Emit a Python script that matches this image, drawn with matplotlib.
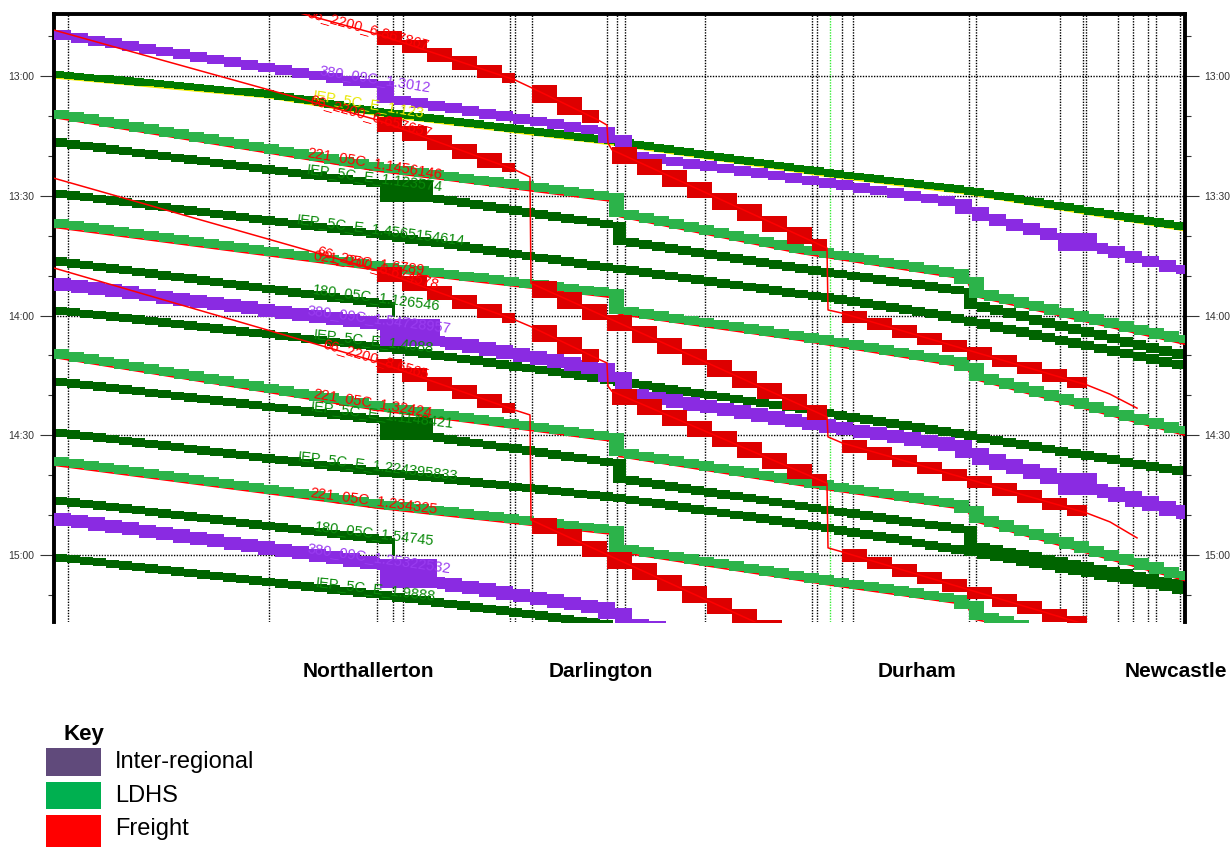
import numpy as np
import matplotlib.pyplot as plt
from matplotlib.patches import Rectangle
from matplotlib.ticker import MultipleLocator, FuncFormatter

plt.rcParams['font.family'] = ['Liberation Sans', 'DejaVu Sans']

# distance (km from left edge of graph) of the dotted timing point lines
timing_km = [1.4, 21.5, 32.3, 33.9, 34.9, 45.6, 46.1, 47.8, 55.3, 56.3, 57.1, 65.1,
             75.8, 76.3, 78.8, 79.9, 91.5, 92.2, 100.6, 102.9, 103.2, 106.4, 107.9,
             109.4, 110.2, 112.6]
green_km = 77.6
stations = ['Northallerton', 'Darlington', 'Durham', 'Newcastle']

# times are minutes after 12:00
# --- inter-regional, 380_09C
ir1_km = [0.0, 33.8, 34.0, 55.9, 56.6, 77.6, 91.2, 92.1, 113.1]
ir1_min = [49.5, 62.8, 65.8, 74.3, 79.5, 86.8, 92.1, 94.6, 108.8]
ir2_km = [0.0, 33.8, 34.0, 38.6, 55.9, 56.6, 77.3, 91.2, 92.1, 113.1]
ir2_min = [111.9, 122.6, 125.1, 126.4, 133.9, 139.2, 147.7, 152.9, 155.2, 169.5]
ir3_km = [0.0, 33.8, 34.0, 38.3, 55.9, 56.6, 77.3]
ir3_min = [170.7, 182.7, 185.3, 186.8, 193.8, 196.8, 205.0]

# --- LDHS, IEP_5C_E and 180_05C
iep1_km = [0.0, 21.5, 32.6, 55.9, 77.6, 91.3, 113.1]
iep1_min = [59.5, 64.5, 69.0, 76.3, 84.3, 88.6, 97.8]
iep2_km = [0.0, 32.6, 33.9, 34.0, 37.9, 55.9, 56.4, 77.6, 91.2, 92.2, 113.1]
iep2_min = [76.5, 87.0, 87.8, 89.8, 90.6, 97.3, 101.1, 109.3, 113.9, 117.4, 130.1]
iep3_km = [0.0, 32.6, 55.9, 77.6, 88.6, 113.1]
iep3_min = [89.3, 99.8, 108.1, 115.6, 119.9, 132.6]
c180a_km = [0.0, 33.9, 34.1]
c180a_min = [106.3, 117.4, 119.4]
iep4_km = [0.0, 32.6, 55.9, 77.3, 90.6, 113.1]
iep4_min = [118.6, 127.9, 136.2, 144.4, 149.7, 159.2]
iep5_km = [0.0, 32.6, 33.9, 34.0, 37.9, 55.9, 56.4, 77.3, 91.2, 92.2, 113.1]
iep5_min = [136.4, 146.2, 147.2, 149.4, 150.4, 156.9, 160.7, 168.7, 173.7, 177.7, 187.5]
iep6_km = [0.0, 32.6, 55.9, 77.3, 90.6, 113.1]
iep6_min = [149.2, 159.2, 165.5, 173.2, 178.7, 188.8]
c180b_km = [0.0, 33.9, 34.1]
c180b_min = [166.2, 176.5, 179.2]
iep7_km = [0.0, 32.6, 55.9]
iep7_min = [180.5, 190.0, 197.5]

# --- LDHS, 221_05C
v221a_km = [0.0, 32.6, 55.9, 56.5, 74.6, 91.2, 92.1, 113.1]
v221a_min = [69.3, 82.8, 90.3, 94.1, 103.3, 109.8, 114.1, 126.1]
v221b_km = [0.0, 32.6, 55.9, 56.5, 74.6, 91.2, 92.1, 113.1]
v221b_min = [96.8, 107.6, 114.4, 118.6, 125.1, 131.9, 134.9, 148.9]
v221c_km = [0.0, 32.6, 55.9, 56.5, 77.3, 91.2, 92.1, 113.1]
v221c_min = [129.4, 142.7, 150.4, 154.2, 162.5, 167.5, 170.5, 185.3]
v221d_km = [0.0, 32.6, 55.9, 56.6, 77.3, 91.2, 92.1, 113.1]
v221d_min = [156.4, 167.2, 173.7, 178.2, 186.3, 191.3, 195.0, 206.3]

# --- freight, 66_2200
f1_km = [20.6, 32.3, 46.1, 47.8, 54.4, 55.3, 55.4, 55.8, 77.3, 77.4, 78.8, 103.3, 105.6, 108.3]
f1_min = [41.5, 49.5, 61.0, 63.0, 71.0, 72.3, 76.8, 78.5, 103.1, 118.6, 119.4, 137.4, 139.7, 143.2]
f2_km = [0.0, 32.3, 46.1, 47.6, 47.7, 77.3, 77.4, 78.8, 103.3, 105.6, 108.3]
f2_min = [48.5, 71.0, 83.5, 85.3, 111.9, 145.4, 150.4, 151.9, 169.5, 171.7, 175.7]
f3_km = [0.0, 32.3, 46.1, 47.8, 54.6, 55.3, 55.4, 55.8, 77.3, 77.4, 78.8, 103.3]
f3_min = [85.6, 108.6, 121.1, 122.9, 131.1, 131.9, 137.7, 139.0, 162.0, 178.2, 179.2, 197.5]
f4_km = [0.0, 32.3, 46.1, 47.6, 47.7, 77.3]
f4_min = [108.1, 131.6, 143.7, 144.9, 171.2, 205.0]
# signalled sections where the freight blocking is shown
frt_stop_sections = [(32.3, 46.1), (47.8, 54.5), (55.8, 77.3), (78.8, 103.3)]
frt_loop_sections = [(32.3, 46.1), (47.8, 77.3), (78.8, 103.3)]

key_labels = ['Inter-regional', 'LDHS', 'Freight']

north = (32.6, 37.9)
durham_ir = (100.4, 104.3)
trains = [
    (iep1_km, iep1_min, 'iep_y', 'IEP_5C_E_1.123', 25.9, []),
    (iep2_km, iep2_min, 'iep', 'IEP_5C_E_1.123574', 25.3, [north]),
    (iep3_km, iep3_min, 'iep', 'IEP_5C_E_1.4565154614', 24.3, []),
    (c180a_km, c180a_min, 'iep', '180_05C_1.126546', 25.9, []),
    (iep4_km, iep4_min, 'iep', 'IEP_5C_E_1.4088', 25.9, []),
    (iep5_km, iep5_min, 'iep', 'IEP_5C_E_1.1148421', 25.6, [north]),
    (iep6_km, iep6_min, 'iep', 'IEP_5C_E_1.224395833', 24.3, []),
    (c180b_km, c180b_min, 'iep', '180_05C_1.54745', 26.1, []),
    (iep7_km, iep7_min, 'iep', 'IEP_5C_E_1.9888', 26.1, []),
    (v221a_km, v221a_min, 'v221', '221_05C_1.1456146', 25.3, []),
    (v221b_km, v221b_min, 'v221', '021_05C_1.6789', 25.9, []),
    (v221c_km, v221c_min, 'v221', '221_05C_1.32424', 25.9, []),
    (v221d_km, v221d_min, 'v221', '221_05C_1.234325', 25.6, []),
    (ir1_km, ir1_min, 'ir', '380_09C_1.3012', 26.6, [durham_ir]),
    (ir2_km, ir2_min, 'ir2', '380_09C_1.54728957', 25.3, [(32.6, 38.6), durham_ir]),
    (ir3_km, ir3_min, 'ir2', '380_09C_1.25322532', 25.3, [(32.6, 38.3)]),
    (f1_km, f1_min, 'frt', '66_2200_6.867867', 25.3, frt_stop_sections),
    (f2_km, f2_min, 'frt', '66_2200_6.657657', 25.6, frt_loop_sections),
    (f3_km, f3_min, 'frt', '66_2200_6.674578', 26.3, frt_stop_sections),
    (f4_km, f4_min, 'frt', '66_2200_8.6565', 26.9, frt_loop_sections[:2]),
]

style = {  # band colour, block length km, half height min, label colour, zorder
    'iep':   ('#006400', 1.3, 0.85, '#0a8a0a', 2),
    'iep_y': ('#007a00', 1.0, 0.8, '#e8e800', 2),
    'v221':  ('#2cb34a', 1.5, 0.9, '#ff0000', 3),
    'ir':    ('#8a2be2', 1.7, 0.9, '#9a3cf0', 4),
    'ir2':   ('#8a2be2', 1.7, 1.35, '#9a3cf0', 4),
    'frt':   ('#dd0000', 2.5, 0.65, '#ff0000', 5),
}

W, H = 1231, 847
fig = plt.figure(figsize=(W / 100, H / 100), dpi=100)
ax = fig.add_axes([54 / W, 1 - 622 / H, (1185 - 54) / W, (622 - 14) / H])
ax.set_xlim(0, 113.1)
ax.set_ylim(196.77, 44.47)


def band(km, mins, lo, hi, step, h, color, long_blocks, z):
    edges = list(np.arange(lo, hi, step)) + [hi]
    for a, b in long_blocks:
        if a >= lo and b <= hi:
            edges = [e for e in edges if e <= a or e >= b] + [a, b]
    edges = np.unique(np.round(edges, 3))
    t = np.interp(edges, km, mins)
    top = np.append(t[:-1] - h, t[-2] - h)
    bot = np.append(t[1:] + h, t[-1] + h)
    ax.fill_between(edges, top, bot, step='post', color=color, lw=0, zorder=z)


for km, mins, kind, label, lab_km, extra in trains:
    color, step, h, lcol, z = style[kind]
    km = np.asarray(km)
    mins = np.asarray(mins)
    if kind == 'frt':
        for lo, hi in extra:
            band(km, mins, lo, hi, step, h, color, [], z)
        ax.plot(km, mins, color='#ff0000', lw=1.1, zorder=z + 0.1)
    else:
        band(km, mins, km[0], km[-1], step, h, color, extra, z)
        if kind == 'v221':
            ax.plot(km, mins + h + 0.2, color='#ff0000', lw=1.2, zorder=z - 0.05)
        if kind == 'iep_y':
            ax.plot(km, mins + h + 0.1, color='#e8e800', lw=1.4, zorder=z - 0.05)
    # label sits just above the train's path
    lift = 0.6 if kind in ('v221', 'frt') else 1.4
    p = ax.transData.transform([(lab_km, np.interp(lab_km, km, mins)),
                                (lab_km + 6, np.interp(lab_km + 6, km, mins))])
    ang = np.degrees(np.arctan2(p[1, 1] - p[0, 1], p[1, 0] - p[0, 0]))
    ax.text(lab_km, np.interp(lab_km, km, mins) - lift, label, color=lcol, fontsize=10.5,
            rotation=ang, rotation_mode='anchor', ha='left', va='center',
            zorder=8, clip_on=True)

# dotted grid
for x in timing_km:
    ax.axvline(x, color='black', lw=1, ls=(0, (1, 1)), zorder=1)
ax.axvline(green_km, color='#33ee33', lw=1, ls=(0, (1, 1)), zorder=1)
for t in [60, 90, 120, 150, 180]:
    ax.axhline(t, color='black', lw=1, ls=(0, (1, 1)), zorder=1)

ax.set_xticks([])
ax.yaxis.set_major_locator(MultipleLocator(30))
ax.yaxis.set_minor_locator(MultipleLocator(10))
ax.yaxis.set_major_formatter(FuncFormatter(lambda v, p: f"{12 + int(v // 60)}:{int(v % 60):02d}"))
ax.tick_params(axis='y', which='both', left=True, right=True, labelleft=True,
               labelright=True, direction='out', colors='#333333', labelsize=7.5, pad=4)
ax.tick_params(axis='y', which='major', length=10, width=0.8)
ax.tick_params(axis='y', which='minor', length=4, width=0.8)
ax.spines['bottom'].set_visible(False)
for s in ['left', 'top', 'right']:
    ax.spines[s].set_linewidth(2.8)
    ax.spines[s].set_color('black')

# station names under the graph
for name, px in zip(stations, [368, 601, 917, 1176]):
    fig.text(px / W, 1 - 671 / H, name, ha='center', va='center',
             fontsize=15, fontweight='bold')

# key
fig.text(84 / W, 1 - 734 / H, 'Key', ha='center', va='center', fontsize=16, fontweight='bold')
for lab, col, y0, hgt in zip(key_labels, ['#604a7b', '#00b050', '#ff0000'],
                             [748, 782, 815], [28, 27, 32]):
    fig.add_artist(Rectangle((46 / W, 1 - (y0 + hgt) / H), 55 / W, hgt / H,
                             transform=fig.transFigure, color=col, lw=0))
    fig.text(115 / W, 1 - (y0 + 14) / H, lab, ha='left', va='center', fontsize=17)

fig.savefig('out.png', dpi=100)
